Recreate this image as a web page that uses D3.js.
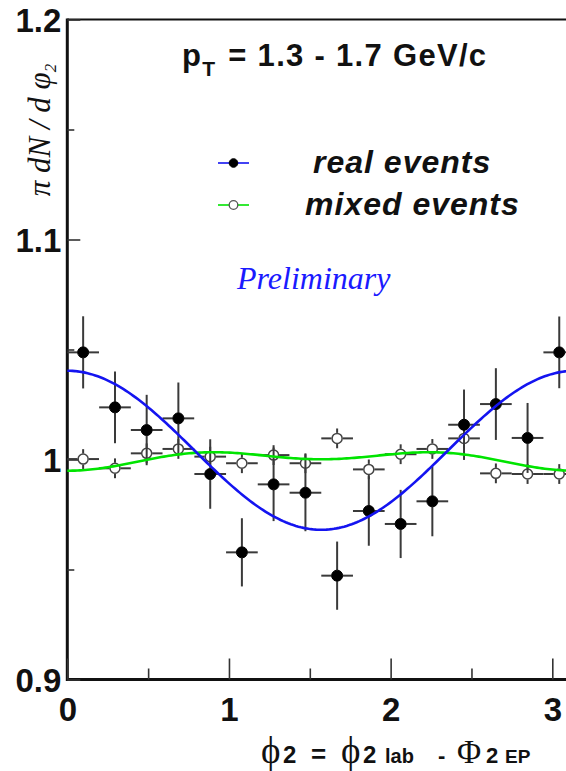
<!DOCTYPE html>
<html>
<head>
<meta charset="utf-8">
<script src="https://cdn.jsdelivr.net/npm/d3@7"></script>
<style>
  html, body { margin: 0; padding: 0; background: #fff; }
  svg { display: block; }
</style>
</head>
<body>
<svg id="chart" width="566" height="771"></svg>
<script>
// Bin centres of the 16 bins in phi2 (0..pi)
const phiCenters = [0.098, 0.295, 0.491, 0.687, 0.884, 1.080, 1.276, 1.473,
                    1.669, 1.865, 2.062, 2.258, 2.454, 2.651, 2.847, 3.043];
const binHalfWidth = 0.098;

// Real-event distribution
const realY   = [1.0487, 1.0237, 1.0134, 1.0187, 0.9934, 0.9578, 0.9887, 0.9849,
                 0.9472, 0.9766, 0.9707, 0.9810, 1.0158, 1.0252, 1.0098, 1.0487];
const realErr = [0.0164, 0.0163, 0.0160, 0.0163, 0.0158, 0.0155, 0.0167, 0.0175,
                 0.0155, 0.0158, 0.0155, 0.0159, 0.0160, 0.0163, 0.0159, 0.0163];

// Mixed-event distribution
const mixedY   = [1.0002, 0.9960, 1.0028, 1.0048, 1.0013, 0.9983, 1.0020, 0.9983,
                  1.0096, 0.9955, 1.0024, 1.0048, 1.0096, 0.9937, 0.9934, 0.9934];
const mixedErr = [0.0045, 0.0045, 0.0045, 0.0045, 0.0045, 0.0045, 0.0045, 0.0045,
                  0.0045, 0.0045, 0.0045, 0.0045, 0.0045, 0.0045, 0.0045, 0.0045];

// Fit parameters: real  -> p0 * (1 + 2 v2 cos 2phi)
//                 mixed -> a0 + a2 cos 2phi + a4 cos 4phi
const realFit  = [1.0042, 0.0180];
const mixedFit = [1.00025, -0.0026, -0.00275];

const xMajor = [0, 1, 2, 3];
const xMinor = [0.5, 1.5, 2.5];
const yMajor = [0.9, 1.0, 1.1, 1.2];
const yMinor = [0.95, 1.05, 1.15];

const svg = d3.select("#chart");

const x = d3.scaleLinear().domain([0, 3]).range([67.3, 552.3]);
const y = d3.scaleLinear().domain([0.9, 1.2]).range([679.5, 19.5]);
const xEnd = x(Math.PI);

const boldSans = "'Liberation Sans', Arial, Helvetica, sans-serif";
const serif = "'Liberation Serif', 'Times New Roman', serif";

// Frame
svg.append("line").attr("x1", x(0)).attr("x2", xEnd + 5).attr("y1", y(1.2)).attr("y2", y(1.2))
  .attr("stroke", "#111").attr("stroke-width", 2.2);
svg.append("line").attr("x1", x(0)).attr("x2", xEnd + 5).attr("y1", y(0.9)).attr("y2", y(0.9))
  .attr("stroke", "#111").attr("stroke-width", 3);
svg.append("line").attr("x1", x(0)).attr("x2", x(0)).attr("y1", y(1.2) - 1).attr("y2", y(0.9) + 1.5)
  .attr("stroke", "#111").attr("stroke-width", 3);

// Left axis (ticks pointing inward)
const yAxis = svg.append("g").attr("transform", `translate(${x(0)},0)`)
  .call(d3.axisLeft(y).tickValues(yMajor).tickSize(-13).tickPadding(6)
    .tickFormat(d => d3.format("")(+d.toFixed(2))));
yAxis.select(".domain").remove();
yAxis.selectAll(".tick line").attr("stroke", "#333").attr("stroke-width", 1.6);
yAxis.selectAll(".tick text").attr("font-family", boldSans).attr("font-weight", "bold")
  .attr("font-size", 33).attr("fill", "#111").attr("dy", "0.36em");
const yMinorAxis = svg.append("g").attr("transform", `translate(${x(0)},0)`)
  .call(d3.axisLeft(y).tickValues(yMinor).tickSize(-7).tickFormat(""));
yMinorAxis.select(".domain").remove();
yMinorAxis.selectAll(".tick line").attr("stroke", "#333").attr("stroke-width", 1.6);

// Bottom axis (ticks pointing inward)
const xAxis = svg.append("g").attr("transform", `translate(0,${y(0.9)})`)
  .call(d3.axisBottom(x).tickValues(xMajor).tickSize(-21).tickPadding(18).tickFormat(d3.format("d")));
xAxis.select(".domain").remove();
xAxis.selectAll(".tick line").attr("stroke", "#333").attr("stroke-width", 1.6);
xAxis.selectAll(".tick text").attr("font-family", boldSans).attr("font-weight", "bold")
  .attr("font-size", 33).attr("fill", "#111");
const xMinorAxis = svg.append("g").attr("transform", `translate(0,${y(0.9)})`)
  .call(d3.axisBottom(x).tickValues(xMinor).tickSize(-11).tickFormat(""));
xMinorAxis.select(".domain").remove();
xMinorAxis.selectAll(".tick line").attr("stroke", "#333").attr("stroke-width", 1.6);

// Error bars and markers
function drawSeries(vals, errs, filled) {
  const g = svg.append("g");
  const r = 5.5;
  const data = vals.map((v, i) => ({ phi: phiCenters[i], v, e: errs[i] }));
  const pts = g.selectAll("g.pt").data(data).join("g").attr("class", "pt");
  // vertical bars (split around the marker)
  pts.append("line")
    .attr("x1", d => x(d.phi)).attr("x2", d => x(d.phi))
    .attr("y1", d => y(d.v + d.e)).attr("y2", d => Math.min(y(d.v) - r, y(d.v)))
    .attr("stroke", "#3a3a3a").attr("stroke-width", 2);
  pts.append("line")
    .attr("x1", d => x(d.phi)).attr("x2", d => x(d.phi))
    .attr("y1", d => Math.max(y(d.v) + r, y(d.v))).attr("y2", d => y(d.v - d.e))
    .attr("stroke", "#3a3a3a").attr("stroke-width", 2);
  // horizontal bars
  pts.append("line")
    .attr("x1", d => x(d.phi - binHalfWidth)).attr("x2", d => x(d.phi) - r)
    .attr("y1", d => y(d.v)).attr("y2", d => y(d.v))
    .attr("stroke", "#3a3a3a").attr("stroke-width", 2);
  pts.append("line")
    .attr("x1", d => x(d.phi) + r).attr("x2", d => x(d.phi + binHalfWidth))
    .attr("y1", d => y(d.v)).attr("y2", d => y(d.v))
    .attr("stroke", "#3a3a3a").attr("stroke-width", 2);
  pts.append("circle")
    .attr("cx", d => x(d.phi)).attr("cy", d => y(d.v)).attr("r", filled ? r : r - 0.5)
    .attr("fill", filled ? "#000" : "#fff")
    .attr("stroke", filled ? "#000" : "#444").attr("stroke-width", filled ? 1 : 1.5);
}
drawSeries(mixedY, mixedErr, false);
drawSeries(realY, realErr, true);

// Fit curves
const phiGrid = d3.range(0, 201).map(i => Math.PI * i / 200);
const realFn  = p => realFit[0] * (1 + 2 * realFit[1] * Math.cos(2 * p));
const mixedFn = p => mixedFit[0] + mixedFit[1] * Math.cos(2 * p) + mixedFit[2] * Math.cos(4 * p);
const line = fn => d3.line().x(p => x(p)).y(p => y(fn(p))).curve(d3.curveLinear)(phiGrid);
svg.append("path").attr("d", line(mixedFn)).attr("fill", "none")
  .attr("stroke", "#00e400").attr("stroke-width", 2.6);
svg.append("path").attr("d", line(realFn)).attr("fill", "none")
  .attr("stroke", "#1414f0").attr("stroke-width", 2.6);

// Title: pT range
const title = svg.append("text").attr("x", 182).attr("y", 66)
  .attr("font-family", boldSans).attr("font-weight", "bold").attr("font-size", 31)
  .attr("letter-spacing", 1.3).attr("fill", "#111");
title.append("tspan").text("p");
title.append("tspan").attr("font-size", 21).attr("dy", 10).text("T");
title.append("tspan").attr("dy", -10).attr("dx", 2).text(" = 1.3 - 1.7 GeV/c");

// Legend
const legend = [
  { label: "real events",  color: "#1414f0", filled: true,  y: 163, tx: 313 },
  { label: "mixed events", color: "#00e400", filled: false, y: 205, tx: 305 }
];
legend.forEach(L => {
  svg.append("line").attr("x1", 218).attr("x2", 249).attr("y1", L.y).attr("y2", L.y)
    .attr("stroke", L.color).attr("stroke-width", 1.6);
  svg.append("circle").attr("cx", 233.5).attr("cy", L.y).attr("r", 4.3)
    .attr("fill", L.filled ? "#000" : "#fff").attr("stroke", L.filled ? "#000" : "#555")
    .attr("stroke-width", L.filled ? 1 : 1.3);
  svg.append("text").attr("x", L.tx).attr("y", L.y + 10)
    .attr("font-family", boldSans).attr("font-weight", "bold").attr("font-style", "italic")
    .attr("font-size", 32).attr("letter-spacing", 1).attr("fill", "#111").text(L.label);
});

// Preliminary stamp
svg.append("text").attr("x", 237).attr("y", 289)
  .attr("font-family", serif).attr("font-style", "italic").attr("font-size", 32)
  .attr("fill", "#1a1aff").text("Preliminary");

// Y-axis title
const yt = svg.append("text")
  .attr("transform", "translate(50,130) rotate(-90)")
  .attr("text-anchor", "middle")
  .attr("font-family", serif).attr("font-style", "italic").attr("font-size", 31).attr("fill", "#111");
yt.append("tspan").text("\u03C0 dN / d \u03C6");
yt.append("tspan").attr("font-size", 17).attr("dy", 6).text("2");

// X-axis title
const xt = svg.append("g").attr("fill", "#111");
const parts = [
  { t: "\u03D5", x: 261, f: serif, s: 37, w: "normal" },
  { t: "2",      x: 283, f: boldSans, s: 24, w: "bold" },
  { t: "=",      x: 311, f: boldSans, s: 26, w: "bold" },
  { t: "\u03D5", x: 341, f: serif, s: 37, w: "normal" },
  { t: "2",      x: 363, f: boldSans, s: 24, w: "bold" },
  { t: "lab",    x: 385, f: boldSans, s: 20, w: "bold" },
  { t: "-",      x: 438, f: boldSans, s: 22, w: "bold" },
  { t: "\u03A6", x: 457, f: serif, s: 33, w: "normal" },
  { t: "2",      x: 486, f: boldSans, s: 22, w: "bold" },
  { t: "EP",     x: 505, f: boldSans, s: 19, w: "bold" }
];
parts.forEach(p => {
  xt.append("text").attr("x", p.x).attr("y", 763)
    .attr("font-family", p.f).attr("font-weight", p.w).attr("font-size", p.s).text(p.t);
});
</script>
</body>
</html>
